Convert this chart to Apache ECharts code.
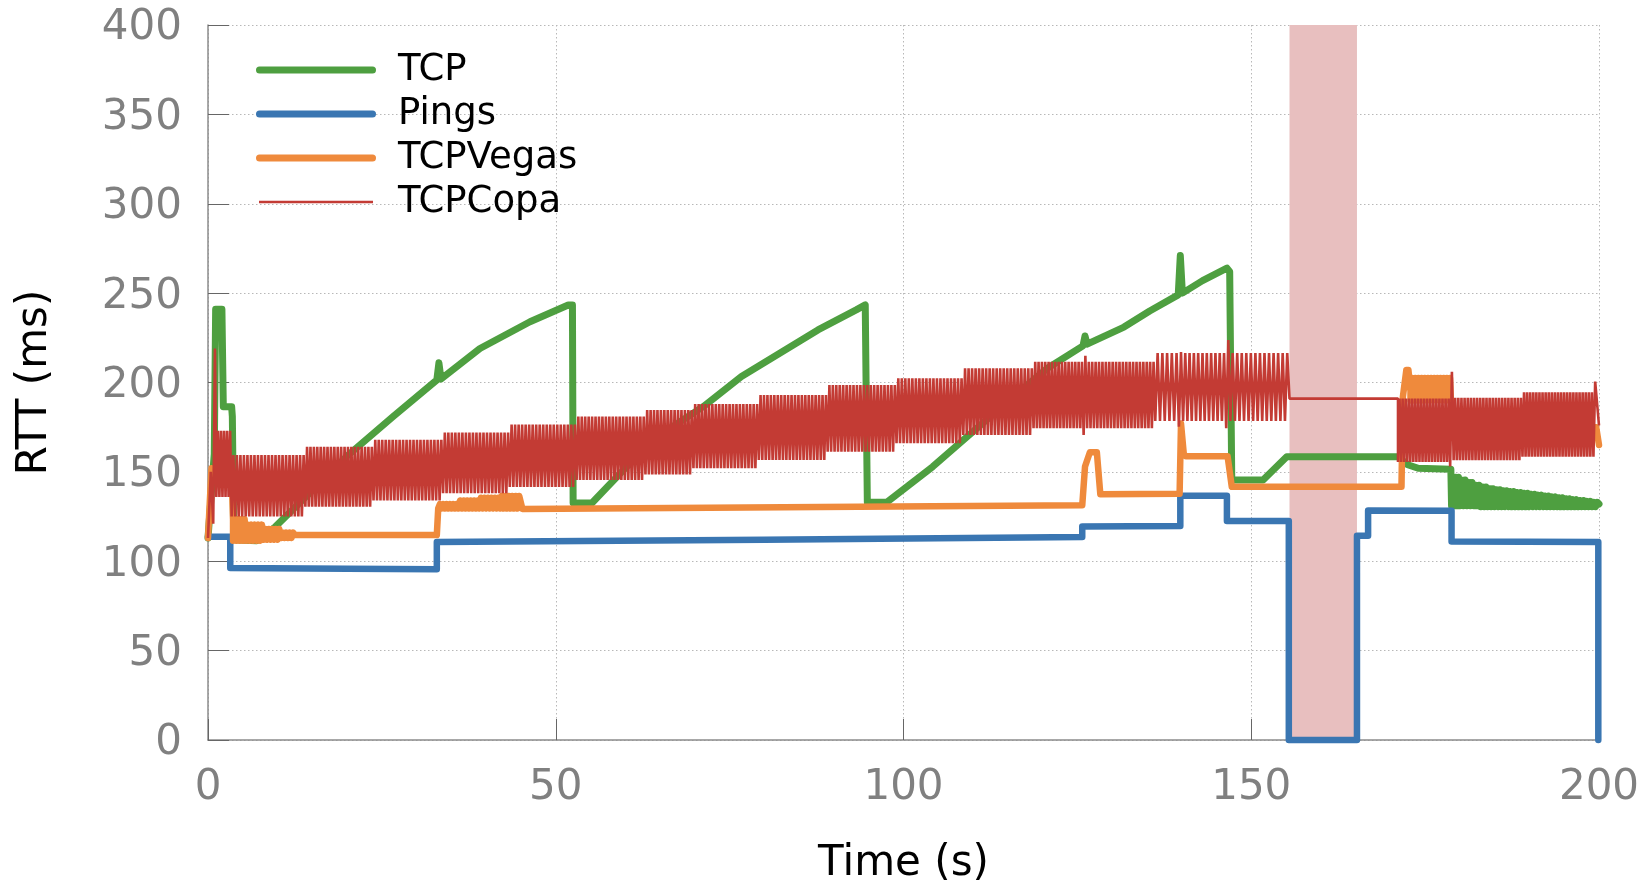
<!DOCTYPE html>
<html>
<head>
<meta charset="utf-8">
<title>RTT over time</title>
<script src="https://cdn.jsdelivr.net/npm/echarts@6/dist/echarts.min.js"></script>
<style>
  html, body { margin: 0; padding: 0; background: #ffffff; }
  #chart { width: 1650px; height: 884px; }
</style>
</head>
<body>
<div id="chart"></div>
<script>
// ---- data (time in s, RTT in ms) ----
const xTicks = [0, 50, 100, 150, 200];
const yTicks = [0, 50, 100, 150, 200, 250, 300, 350, 400];
const seriesNames = ['TCP', 'Pings', 'TCPVegas', 'TCPCopa'];

// outage window shaded in pink
const outageWindow = [155.5, 165.2];

// Pings: step trace
const pingTimes = [0, 3.2, 3.2, 20, 32.9, 32.9, 80, 125.7, 125.7, 139.8, 139.8, 146.5, 146.5, 155.4, 155.4, 165.2, 165.2, 166.8, 166.8, 178.8, 178.8, 199.9, 199.9];
const pingRtt   = [113.7, 113.7, 96.2, 95.8, 95.5, 110.8, 112, 113.5, 119.5, 119.7, 136.7, 136.7, 122.5, 122.5, 0, 0, 114.3, 114.3, 128.4, 128.2, 111, 110.8, 0];

// TCP: cubic-style ramps followed by a noisy tail
const tcpTimes = [0, 0.9, 1.1, 2.0, 2.2, 3.4, 3.5, 3.7, 7, 9.6, 19.9, 26.6, 32.9, 33.2, 33.5, 39.1, 46.3, 51.8, 52.4, 52.5, 55.2,
  60.2, 65.7, 71.2, 76.7, 82.2, 87.7, 93.2, 94.5, 94.8, 97.6, 104.2, 109.7, 115.2, 120.7, 125.8, 126.1, 126.4, 131.7, 135.4,
  139.5, 139.8, 140.1, 143, 146.5, 146.9, 147.2, 151.7, 155.1, 171.1, 172.5, 174, 178.7];
const tcpRtt = [113, 160, 241, 241, 186.5, 186.5, 181, 112, 111.5, 119, 158.5, 180.9, 201.4, 211, 202, 219, 234, 243.4, 243.4, 132.6, 132.6,
  152.9, 172.5, 186.5, 203.3, 216.3, 229.4, 240.6, 243.4, 133, 133, 152.9, 171.6, 190.2, 208, 220.5, 226, 221.5, 231, 240,
  249, 271, 250, 257, 264, 262, 145.5, 145.5, 158.5, 158.5, 154, 152, 151.5];
// noisy tail: [start, end, low, high, swings]
const tcpTailBands = [
  [178.8, 180, 131, 147, 3],
  [180, 181, 131, 145.5, 2],
  [181, 182, 131, 144, 2],
  [182, 183, 131, 142.5, 2],
  [183, 184, 130.5, 141.5, 2],
  [184, 185, 130.5, 140.5, 2],
  [185, 186, 130.5, 140, 2],
  [186, 187, 130.5, 139.5, 2],
  [187, 188, 130.5, 139, 2],
  [188, 189, 130.5, 138.5, 2],
  [189, 190, 130.5, 138, 2],
  [190, 191, 130.5, 137.5, 2],
  [191, 192, 130.5, 137, 2],
  [192, 193, 130.5, 136.5, 2],
  [193, 194, 130.5, 136, 2],
  [194, 195, 130.5, 135.5, 2],
  [195, 196, 130.5, 135, 2],
  [196, 197, 130.5, 134.5, 2],
  [197, 198, 130.5, 134, 2],
  [198, 199, 130.5, 133.5, 2],
  [199, 200, 130.5, 133, 2]
];
const tcpEnd = [[200, 132]];

// TCPVegas
const vegasHead = [[0, 113], [0.5, 152], [3.4, 148], [3.6, 123.5]];
const vegasBands1 = [
  [3.6, 5.5, 111.5, 123.5, 4],
  [5.5, 8, 111.5, 120.5, 5],
  [8, 10.5, 112, 118, 5],
  [10.5, 12.5, 113, 116, 4]
];
const vegasMid1 = [[12.5, 114.7], [32.9, 114.7], [33.1, 129.5]];
const vegasBands2 = [
  [33.1, 36, 129.5, 132, 6],
  [36, 39, 129.5, 134, 6],
  [39, 42, 129.5, 135.5, 6],
  [42, 45, 129.5, 136.5, 6]
];
const vegasMid2 = [[45.2, 129.3], [125.7, 131.3], [126.1, 153], [126.8, 161], [127.8, 161], [128.3, 137.5], [139.7, 137.8],
  [139.9, 177], [140.3, 160], [140.6, 158.7], [146.6, 158.7], [147.2, 141.7], [171.6, 141.7], [171.8, 192], [172.3, 207],
  [172.6, 207], [172.9, 195]];
const vegasBands3 = [[172.9, 178.8, 190, 202.5, 13]];
const vegasTail = [[178.9, 172], [199.6, 175], [200, 165]];

// TCPCopa: oscillation bands [start, end, low, high, swings]
const copaHead = [[0, 113], [0.4, 150], [0.75, 121], [1.0, 219]];
const copaBands1 = [
  [1.2, 3.4, 136, 173, 5],
  [3.4, 14, 125, 159.4, 21],
  [14, 23.8, 130.5, 164, 20],
  [23.8, 33.8, 134, 168, 20],
  [33.8, 43.4, 138, 172, 19],
  [43.4, 53, 141.5, 176.5, 19],
  [53, 62.9, 145.5, 181, 20],
  [62.9, 69.8, 148.5, 184.6, 14],
  [69.8, 79.2, 152, 188, 19],
  [79.2, 89.1, 156.6, 193, 20],
  [89.1, 99, 161.3, 198.6, 20],
  [99, 108.6, 166, 202.3, 19],
  [108.6, 118.7, 170.6, 208, 20],
  [118.7, 125.9, 174.4, 211.6, 15],
  [125.9, 126.4, 170.6, 215, 1],
  [126.4, 136.2, 174.4, 211.6, 20],
  [136.2, 139.6, 178.5, 216.5, 5],
  [139.6, 140.2, 175.3, 217, 1],
  [140.2, 146.4, 178.5, 216.5, 10],
  [146.4, 147.0, 174.4, 223.8, 1],
  [147.0, 155.5, 178.5, 216.5, 13]
];
const copaOutage = [[155.5, 191], [171.1, 191]];
const copaBands2 = [
  [171.1, 178.6, 155.5, 191, 17],
  [178.6, 179.1, 153, 206, 1],
  [179.1, 189, 156.5, 191.5, 22],
  [189, 199.2, 158.5, 194.5, 23],
  [199.2, 199.7, 158.5, 200.5, 1]
];
const copaTail = [[200, 176]];

// ---- build point lists ----
function zip(xs, ys) { return xs.map((x, i) => [x, ys[i]]); }
// each band alternates low/high values 'swings' times across its time span
function bandPoints(bands) {
  const pts = [];
  bands.forEach(([t0, t1, lo, hi, n]) => {
    const dt = (t1 - t0) / n;
    for (let k = 0; k < n; k++) {
      pts.push([t0 + k * dt, lo]);
      pts.push([t0 + (k + 0.5) * dt, hi]);
    }
  });
  return pts;
}

const tcpData = zip(tcpTimes, tcpRtt).concat(bandPoints(tcpTailBands), tcpEnd);
const pingData = zip(pingTimes, pingRtt);
const vegasData = [].concat(vegasHead, bandPoints(vegasBands1), vegasMid1, bandPoints(vegasBands2), vegasMid2,
  bandPoints(vegasBands3), vegasTail);
const copaData = [].concat(copaHead, bandPoints(copaBands1), copaOutage, bandPoints(copaBands2), copaTail);

const FONT = 'DejaVu Sans';
const colors = { tcp: '#4e9f40', ping: '#3a76b2', vegas: '#ef8a3c', copa: '#c33b34', outage: '#e8bfbf' };

// legend keys: 120x14 box, thick rounded bar or thin bar centred in it
const thickKey = 'path://M0,0 M120,14 M3.5,3.5 L116.5,3.5 A3.5,3.5 0 0 1 116.5,10.5 L3.5,10.5 A3.5,3.5 0 0 1 3.5,3.5 Z';
const thinKey = 'path://M0,0 M120,14 M3,5.8 L117,5.8 L117,8.2 L3,8.2 Z';

const chart = echarts.init(document.getElementById('chart'), null, { renderer: 'canvas' });

function lineSeries(name, data, color, width, extra) {
  return Object.assign({
    name: name,
    type: 'line',
    data: data,
    symbol: 'none',
    showSymbol: false,
    clip: false,
    silent: true,
    animation: false,
    progressive: 0,
    lineStyle: { color: color, width: width, cap: 'round', join: 'round' },
    itemStyle: { color: color }
  }, extra || {});
}

chart.setOption({
  animation: false,
  backgroundColor: '#ffffff',
  grid: { left: 208, top: 25, width: 1391, height: 715, containLabel: false, outerBoundsMode: 'none' },
  legend: {
    data: [
      { name: seriesNames[0], icon: thickKey },
      { name: seriesNames[1], icon: thickKey },
      { name: seriesNames[2], icon: thickKey },
      { name: seriesNames[3], icon: thinKey }
    ],
    orient: 'vertical',
    left: 256,
    top: 50,
    padding: 0,
    itemWidth: 120,
    itemHeight: 14,
    itemGap: 4,
    symbolKeepAspect: false,
    textStyle: { fontFamily: FONT, fontSize: 37, color: '#000000', lineHeight: 40, padding: [0, 0, 0, 17] }
  },
  xAxis: {
    type: 'value',
    min: xTicks[0],
    max: xTicks[xTicks.length - 1],
    interval: xTicks[1] - xTicks[0],
    name: 'Time (s)',
    nameLocation: 'middle',
    nameGap: 103,
    nameTextStyle: { fontFamily: FONT, fontSize: 42, color: '#000000' },
    axisLine: { show: true, onZero: false, lineStyle: { color: '#8c8c8c', width: 1.5 } },
    axisTick: { show: true, inside: true, length: 21, lineStyle: { color: '#666666', width: 1 } },
    axisLabel: { fontFamily: FONT, fontSize: 42, color: '#808080', margin: 27 },
    splitLine: { show: true, lineStyle: { color: '#b8b8b8', width: 1, type: [1.5, 2.5] } }
  },
  yAxis: {
    type: 'value',
    min: yTicks[0],
    max: yTicks[yTicks.length - 1],
    interval: yTicks[1] - yTicks[0],
    name: 'RTT (ms)',
    nameLocation: 'middle',
    nameGap: 152,
    nameTextStyle: { fontFamily: FONT, fontSize: 42, color: '#000000' },
    axisLine: { show: true, onZero: false, lineStyle: { color: '#8c8c8c', width: 1.5 } },
    axisTick: { show: true, inside: true, length: 21, lineStyle: { color: '#666666', width: 1 } },
    axisLabel: {
      margin: 26,
      formatter: v => '{n|' + v + '}',
      rich: { n: { fontFamily: FONT, fontSize: 42, color: '#808080', padding: [7, 0, 0, 0] } }
    },
    splitLine: { show: true, lineStyle: { color: '#b8b8b8', width: 1, type: [1.5, 2.5] } }
  },
  series: [
    lineSeries('TCP', tcpData, colors.tcp, 7, {
      markArea: {
        silent: true,
        itemStyle: { color: colors.outage, opacity: 1 },
        data: [[{ xAxis: outageWindow[0], yAxis: yTicks[0] }, { xAxis: outageWindow[1], yAxis: yTicks[yTicks.length - 1] }]]
      }
    }),
    lineSeries('Pings', pingData, colors.ping, 6.5),
    lineSeries('TCPVegas', vegasData, colors.vegas, 6.5),
    lineSeries('TCPCopa', copaData, colors.copa, 2.6, { lineStyle: { color: colors.copa, width: 2.6, join: 'bevel' } })
  ]
});
</script>
</body>
</html>
